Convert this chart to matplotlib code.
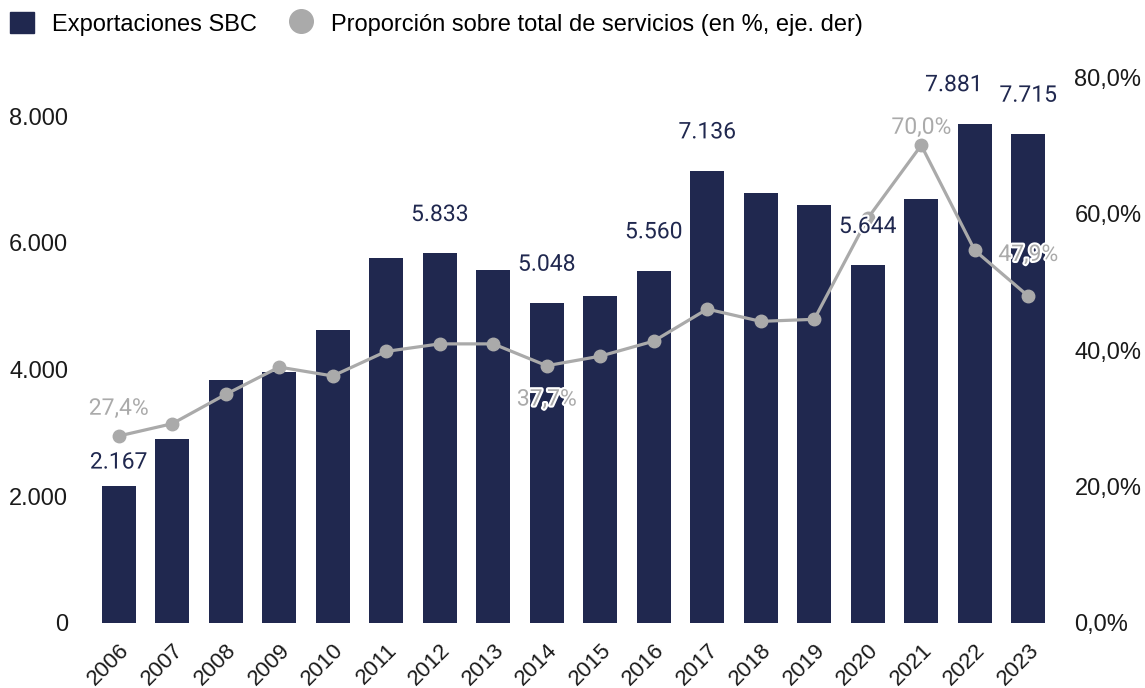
import matplotlib.pyplot as plt
import matplotlib.patheffects as pe
from matplotlib.lines import Line2D
from matplotlib.patches import Patch
from matplotlib.ticker import FuncFormatter

plt.rcParams['font.family'] = ['Roboto', 'DejaVu Sans']

# datos
years = ['2006', '2007', '2008', '2009', '2010', '2011', '2012', '2013', '2014',
         '2015', '2016', '2017', '2018', '2019', '2020', '2021', '2022', '2023']
exports = [2167, 2900, 3835, 3960, 4624, 5760, 5833, 5571, 5048,
           5160, 5560, 7136, 6786, 6597, 5644, 6692, 7881, 7715]
share = [27.4, 29.2, 33.5, 37.5, 36.2, 39.8, 40.9, 40.9, 37.7,
         39.1, 41.3, 46.0, 44.2, 44.5, 59.3, 70.0, 54.6, 47.9]

# que valores se rotulan
bar_labeled = ['2006', '2012', '2014', '2016', '2017', '2020', '2022', '2023']
line_labeled = ['2006', '2014', '2021', '2023']

NAVY = '#20284f'
GRAY = '#aaaaaa'
TICK_FONT = ['Liberation Sans', 'DejaVu Sans']


def fmt_miles(v):
    return f'{v:,.0f}'.replace(',', '.')


def fmt_pct(v):
    return f'{v:.1f}%'.replace('.', ',')


fig = plt.figure(figsize=(11.45, 6.88), dpi=100)
ax = fig.add_axes([0.0803, 0.0945, 0.8411, 0.7935])
ax2 = ax.twinx()

x = list(range(len(years)))
ax.bar(x, exports, width=0.64, color=NAVY, zorder=2)
ax.set_xlim(-0.5, len(years) - 0.5)
ax.set_ylim(0, 8615)
ax.set_yticks([0, 2000, 4000, 6000, 8000])
ax.yaxis.set_major_formatter(FuncFormatter(lambda v, p: fmt_miles(v)))
ax.set_xticks(x)
ax.set_xticklabels(years, rotation=45, ha='right', rotation_mode='anchor')

ax2.plot(x, share, color=GRAY, lw=2.3, marker='o', markersize=9, zorder=3)
ax2.set_ylim(0, 80)
ax2.set_yticks([0, 20, 40, 60, 80])
ax2.yaxis.set_major_formatter(FuncFormatter(lambda v, p: fmt_pct(v)))

for a in (ax, ax2):
    for s in a.spines.values():
        s.set_visible(False)
    a.tick_params(length=0, labelsize=17, colors='#1a1a1a')
    for lbl in a.get_xticklabels() + a.get_yticklabels():
        lbl.set_family(TICK_FONT)
ax.tick_params(axis='y', pad=17)
ax.tick_params(axis='x', pad=12, labelsize=16)
ax2.tick_params(axis='y', pad=14)

halo = [pe.withStroke(linewidth=3, foreground='white')]

# rotulos de barras (encima de la linea)
bar_offsets = {'2006': (0, 17), '2022': (-15, 28)}
for i, (yr, v) in enumerate(zip(years, exports)):
    if yr in bar_labeled:
        dx, dy = bar_offsets.get(yr, (0, 28))
        t = ax2.annotate(fmt_miles(v), (i, v), xycoords=ax.transData,
                         xytext=(dx, dy), textcoords='offset points',
                         ha='center', va='center', fontsize=16.5, color=NAVY,
                         zorder=5)
        t.set_path_effects(halo)

line_offsets = {'2006': 20, '2014': -24, '2021': 13, '2023': 30}
for i, (yr, v) in enumerate(zip(years, share)):
    if yr in line_labeled:
        t = ax2.annotate(fmt_pct(v), (i, v), xytext=(0, line_offsets[yr]),
                         textcoords='offset points', ha='center', va='center',
                         fontsize=16.5, color=GRAY, zorder=6)
        t.set_path_effects(halo)

handles = [Patch(facecolor=NAVY, edgecolor=NAVY),
           Line2D([], [], marker='o', color='none', markerfacecolor=GRAY,
                  markeredgecolor=GRAY, markersize=17)]
fig.legend(handles, ['Exportaciones SBC',
                     'Proporción sobre total de servicios (en %, eje. der)'],
           loc='upper left', bbox_to_anchor=(10 / 1145, 1 - 12 / 688), ncol=2,
           frameon=False, prop={'family': TICK_FONT, 'size': 17},
           handlelength=1.0, handleheight=1.0, handletextpad=0.76,
           columnspacing=1.4, borderaxespad=0, borderpad=0)

fig.savefig('out.png', dpi=100)
plt.close(fig)
